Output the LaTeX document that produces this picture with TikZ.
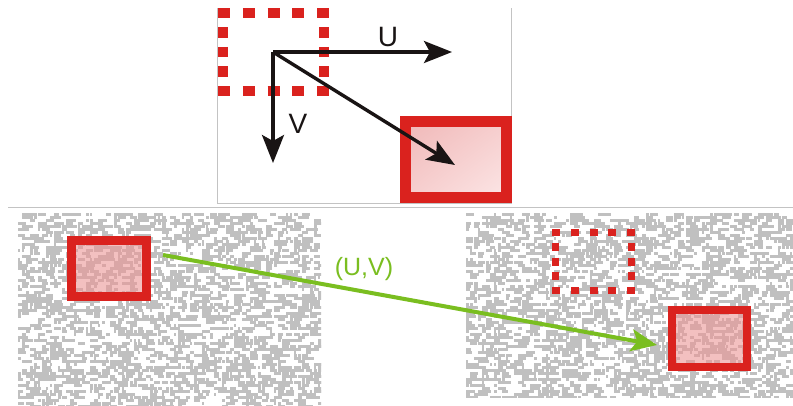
\documentclass[tikz,border=0pt]{standalone}
\usepackage{fontspec}
\setmainfont{Liberation Sans}
\usetikzlibrary{arrows.meta,shadings}

\definecolor{boxred}{RGB}{218,34,30}
\definecolor{pinkA}{RGB}{240,184,184}
\definecolor{pinkB}{RGB}{246,206,206}
\definecolor{pinkC}{RGB}{252,230,230}
\definecolor{boxpink}{RGB}{236,150,150}
\definecolor{noisegray}{RGB}{192,192,192}
\definecolor{framegray}{RGB}{195,195,195}
\definecolor{motiongreen}{RGB}{122,190,32}
\definecolor{vecblack}{RGB}{25,20,20}

% random grey speckle texture inside a rectangle
\newcommand\speckle[4]{%
  \begin{scope}
    \clip (#1,#2) rectangle (#3,#4);
    \foreach \yy in {#2,\the\numexpr#2+3\relax,...,#4}{%
      \foreach \xx in {#1,\the\numexpr#1+4\relax,...,#3}{%
        \pgfmathsetmacro\hit{rnd}%
        \ifdim\hit pt<0.47pt
          \pgfmathsetmacro\len{2+rnd*7}%
          \fill[noisegray] (\xx,\yy) rectangle ++(\len,2.7);
        \fi
      }%
    }%
  \end{scope}%
}

% dotted-frame outline: outer box #1..#4, stroke #5,
% #6 dashes of length #7 on top/bottom (corners included),
% #8 dashes of length #9 on each side
\newcommand\dotframe[9]{%
  \pgfmathsetmacro\hp{(#3-#1-#7)/(#6-1)}%
  \pgfmathsetmacro\hg{\hp-#7}%
  \pgfmathsetmacro\vg{(#4-#2-2*#5-#8*#9)/(#8+1)}%
  \begin{scope}[draw=boxred,line width=#5pt,line cap=butt]
    \draw[dash pattern=on #7pt off \hg pt] (#1,#2+#5/2) -- (#3,#2+#5/2);
    \draw[dash pattern=on #7pt off \hg pt] (#1,#4-#5/2) -- (#3,#4-#5/2);
    \draw[dash pattern=on #9pt off \vg pt]
      (#1+#5/2,#2+#5+\vg) -- (#1+#5/2,#4-#5-\vg);
    \draw[dash pattern=on #9pt off \vg pt]
      (#3-#5/2,#2+#5+\vg) -- (#3-#5/2,#4-#5-\vg);
  \end{scope}%
}

\begin{document}
\begin{tikzpicture}[x=1pt,y=-1pt,
  solidbox/.style={draw=boxred,inner sep=0pt,outer sep=0pt},
  vec/.style={draw=vecblack,line width=3.4pt,
    -{Stealth[length=28pt,width=22pt,inset=6pt]}},
  motion/.style={draw=motiongreen,line width=4pt,
    -{Stealth[length=26pt,width=22pt,inset=6pt]}},
  lbl/.style={inner sep=0pt,font=\fontsize{28}{30}\selectfont,text=vecblack}]
\useasboundingbox (0,0) rectangle (793,405);
\fill[white] (0,0) rectangle (793,405);

% ---- upper panel: displacement vectors ----
\draw[framegray,line width=1pt] (217,8) -- (217,203) -- (511,203) -- (511,8);
\dotframe{218}{8}{329}{96}{10}{5}{12}{3}{10.5}
\node[solidbox,line width=11pt,
      upper left=pinkA,upper right=pinkB,lower left=pinkB,lower right=pinkC,
      minimum width=101pt,minimum height=76pt] (newtop) at (456,159.5) {};
\coordinate (O) at (273,52);
\coordinate (Utip) at (452,52);
\coordinate (Vtip) at (273,163);
\coordinate (Dtip) at (455,165);
\draw[vec] (O) -- (Utip);
\draw[vec] (O) -- (Vtip);
\draw[vec] (O) -- (Dtip);
\node[lbl] (ulabel) at (388,37) {U};
\node[lbl] (vlabel) at (298,124) {V};

% separator
\draw[framegray,line width=1pt] (8,207) -- (793,207);

% ---- lower panels: textured frames ----
\pgfmathsetseed{4711}
\speckle{18}{213}{321}{405}
\speckle{466}{213}{793}{397}

\node[solidbox,line width=9pt,fill=boxpink,fill opacity=0.6,
      minimum width=75pt,minimum height=56pt] (lbox) at (109,268.5) {};
\dotframe{552}{229}{635}{294}{7}{5}{8}{3}{8}
\node[solidbox,line width=8pt,fill=boxpink,fill opacity=0.6,
      minimum width=75pt,minimum height=57pt] (rbox) at (709.5,338.5) {};

\coordinate (mstart) at (163,255);
\coordinate (mend) at (657,345);
\draw[motion] (mstart) -- (mend);
\node[inner sep=0pt,font=\fontsize{25}{27}\selectfont,text=motiongreen]
  (uvlabel) at (364,269) {(U,V)};
\end{tikzpicture}
\end{document}
